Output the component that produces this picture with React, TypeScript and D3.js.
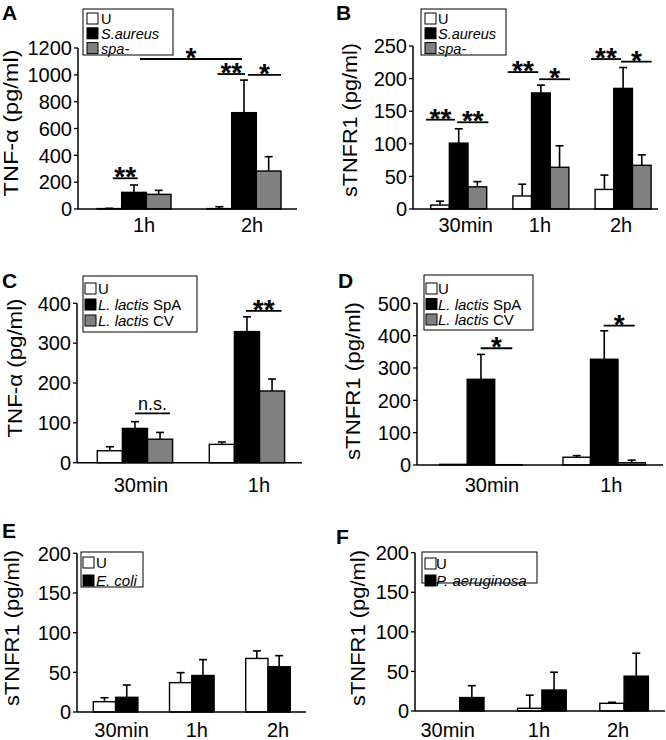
import React from "react";
import * as d3 from "d3";

const FONT = "'Liberation Sans', Arial, Helvetica, sans-serif";

// ---------- Panel A: TNF-α, S. aureus ----------
const groupsA = ["1h", "2h"];
const legendA = [["", "U"], ["S.aureus", ""], ["spa-", ""]];
const meanA_U = [3, 3];
const sdA_U = [2, 14];
const meanA_SA = [124, 718];
const sdA_SA = [55, 243];
const meanA_spa = [109, 283];
const sdA_spa = [30, 107];
const ticksA = [0, 200, 400, 600, 800, 1000, 1200];
// [group1, barPos1, group2, barPos2, value, label]
const sigA = [
  [0, 0.64, 0, 1.65, 229, "**"],
  [0, 1.74, 1, 1.42, 1118, "*"],
  [1, 0.43, 1, 1.54, 1006, "**"],
  [1, 1.66, 1, 3.0, 999, "*"],
];

// ---------- Panel B: sTNFR1, S. aureus ----------
const groupsB = ["30min", "1h", "2h"];
const legendB = [["", "U"], ["S.aureus", ""], ["spa-", ""]];
const meanB_U = [6, 20, 30];
const sdB_U = [6, 18, 22];
const meanB_SA = [101, 178, 185];
const sdB_SA = [22, 12, 32];
const meanB_spa = [34, 64, 67];
const sdB_spa = [8, 33, 16];
const ticksB = [0, 50, 100, 150, 200, 250];
const sigB = [
  [0, -0.25, 0, 1.3, 137, "**"],
  [0, 1.42, 0, 3.09, 133, "**"],
  [1, -0.28, 1, 1.36, 210, "**"],
  [1, 1.41, 1, 3.06, 199, "*"],
  [2, -0.22, 2, 1.39, 230, "**"],
  [2, 1.39, 2, 3.03, 226, "*"],
];

// ---------- Panel C: TNF-α, L. lactis ----------
const groupsC = ["30min", "1h"];
const legendC = [["", "U"], ["L. lactis", " SpA"], ["L. lactis", " CV"]];
const meanC_U = [30, 46];
const sdC_U = [10, 6];
const meanC_SpA = [86, 329];
const sdC_SpA = [17, 37];
const meanC_CV = [59, 180];
const sdC_CV = [17, 30];
const ticksC = [0, 100, 200, 300, 400];
const sigC = [
  [0, 1.5, 0, 2.9, 124, "n.s."],
  [1, 1.46, 1, 2.88, 381, "**"],
];

// ---------- Panel D: sTNFR1, L. lactis ----------
const groupsD = ["30min", "1h"];
const legendD = [["", "U"], ["L. lactis", " SpA"], ["L. lactis", " CV"]];
const meanD_U = [2, 24];
const sdD_U = [0, 5];
const meanD_SpA = [265, 327];
const sdD_SpA = [77, 88];
const meanD_CV = [1, 7];
const sdD_CV = [0, 8];
const ticksD = [0, 100, 200, 300, 400, 500];
const sigD = [
  [0, 1.49, 0, 2.64, 361, "*"],
  [1, 1.48, 1, 2.61, 431, "*"],
];

// ---------- Panel E: sTNFR1, E. coli ----------
const groupsE = ["30min", "1h", "2h"];
const legendE = [["", "U"], ["E. coli", ""]];
const meanE_U = [13, 37, 67.5];
const sdE_U = [5, 12.6, 9.5];
const meanE_Ec = [18.5, 46, 57];
const sdE_Ec = [15.5, 20, 14];
const ticksE = [0, 50, 100, 150, 200];

// ---------- Panel F: sTNFR1, P. aeruginosa ----------
const groupsF = ["30min", "1h", "2h"];
const legendF = [["", "U"], ["P. aeruginosa", ""]];
const meanF_U = [0, 3.4, 9.7];
const sdF_U = [0, 16.6, 1.3];
const meanF_Pa = [17, 26.5, 44];
const sdF_Pa = [15, 22.5, 29];
const ticksF = [0, 50, 100, 150, 200];

const FILLS = ["#ffffff", "#000000", "#808080"];

type Layout = {
  axisX: number; xEnd: number; yTop: number; yBase: number;
  s0: number; step: number; bw: number;
  labelDx: number[]; labelY: number;
  letterX: number; letterY: number;
  yLabX: number; yLabCY: number; yLabLen: number;
  lx: number; ly: number; lw: number; lh: number; rowH: number; rowY0: number; sqX: number; txtX: number; lfs: number;
};

function Panel(props: any) {
  const { groups, means, sds, legend, ticks, sig, yLabel, letter, L } = props;
  const yMax = ticks[ticks.length - 1];
  const y = d3.scaleLinear().domain([0, yMax]).range([L.yBase, L.yTop]);
  const n = groups.length;
  const x = d3
    .scaleBand<string>()
    .domain(groups)
    .range([L.s0, L.s0 + (n - 1) * L.step + L.bw])
    .paddingInner(1 - L.bw / L.step)
    .paddingOuter(0);
  const seriesIdx = means.map((_: any, i: number) => String(i));
  const xi = d3.scaleBand<string>().domain(seriesIdx).range([0, x.bandwidth()]).padding(0);
  const bw = xi.bandwidth();
  const gx = (gi: number) => x(groups[gi]) as number;
  const px = (gi: number, p: number) => gx(gi) + p * bw;

  return (
    <g>
      {/* bars */}
      {groups.map((g: string, gi: number) =>
        means.map((m: number[], si: number) => {
          const v = m[gi];
          if (v <= 0) return null;
          const bx = (x(g) as number) + (xi(String(si)) as number);
          return (
            <rect
              key={g + si}
              x={bx}
              y={y(v)}
              width={bw}
              height={L.yBase - y(v)}
              fill={FILLS[si]}
              stroke="#000"
              strokeWidth={1.4}
            />
          );
        })
      )}
      {/* error bars */}
      {groups.map((g: string, gi: number) =>
        means.map((m: number[], si: number) => {
          const v = m[gi];
          const s = sds[si][gi];
          if (s <= 0) return null;
          const cx = (x(g) as number) + (xi(String(si)) as number) + bw / 2;
          return (
            <g key={"e" + g + si} stroke="#000" strokeWidth={1.6}>
              <line x1={cx} x2={cx} y1={y(v)} y2={y(v + s)} />
              <line x1={cx - 4} x2={cx + 4} y1={y(v + s)} y2={y(v + s)} />
            </g>
          );
        })
      )}
      {/* axes */}
      <line x1={L.axisX} x2={L.axisX} y1={L.yTop} y2={L.yBase} stroke="#000" strokeWidth={1.5} />
      <line x1={L.axisX} x2={L.xEnd} y1={L.yBase} y2={L.yBase} stroke="#000" strokeWidth={1.5} />
      {ticks.map((t: number) => (
        <g key={"t" + t}>
          <line x1={L.axisX - 4} x2={L.axisX} y1={y(t)} y2={y(t)} stroke="#000" strokeWidth={1.3} />
          <text
            x={L.axisX - 6}
            y={y(t)}
            dy="0.36em"
            textAnchor="end"
            fontSize={20}
            fontFamily={FONT}
          >
            {t}
          </text>
        </g>
      ))}
      {groups.map((g: string, gi: number) => (
        <text
          key={"gl" + g}
          x={(x(g) as number) + x.bandwidth() / 2 + L.labelDx[gi]}
          y={L.labelY}
          textAnchor="middle"
          fontSize={20}
          fontFamily={FONT}
        >
          {g}
        </text>
      ))}
      {/* y label */}
      <text
        transform={`translate(${L.yLabX},${L.yLabCY}) rotate(-90)`}
        textAnchor="middle"
        fontSize={19.5}
        fontFamily={FONT}
        textLength={L.yLabLen}
        lengthAdjust="spacingAndGlyphs"
      >
        {yLabel}
      </text>
      {/* letter */}
      <text x={L.letterX} y={L.letterY} fontSize={21} fontWeight="bold" fontFamily={FONT}>
        {letter}
      </text>
      {/* significance */}
      {sig.map((s: any[], k: number) => {
        const x1 = px(s[0], s[1]);
        const x2 = px(s[2], s[3]);
        const yy = y(s[4]);
        const isStar = s[5].indexOf("*") >= 0;
        return (
          <g key={"s" + k}>
            <line x1={x1} x2={x2} y1={yy} y2={yy} stroke="#000" strokeWidth={1.8} />
            <text
              x={(x1 + x2) / 2}
              y={isStar ? yy + 8 : yy - 3}
              textAnchor="middle"
              fontSize={isStar ? 28 : 18}
              fontWeight={isStar ? "bold" : "normal"}
              fontFamily={FONT}
            >
              {s[5]}
            </text>
          </g>
        );
      })}
      {/* legend */}
      <rect x={L.lx} y={L.ly} width={L.lw} height={L.lh} fill="#fff" stroke="#000" strokeWidth={1} />
      {legend.map((it: string[], i: number) => {
        const top = L.ly + L.rowY0 + i * L.rowH;
        return (
          <g key={"lg" + i}>
            <rect x={L.sqX} y={top} width={11} height={11} fill={FILLS[i]} stroke="#000" strokeWidth={1} />
            <text x={L.txtX} y={top + 11} fontSize={L.lfs} fontFamily={FONT}>
              {it[0] ? <tspan fontStyle="italic">{it[0]}</tspan> : null}
              {it[1] ? <tspan>{it[1]}</tspan> : null}
            </text>
          </g>
        );
      })}
    </g>
  );
}

const LA: Layout = {
  axisX: 78, xEnd: 297, yTop: 48, yBase: 209, s0: 97, step: 110, bw: 74,
  labelDx: [10, 8], labelY: 232, letterX: 2, letterY: 20, yLabX: 18, yLabCY: 123, yLabLen: 147,
  lx: 83, ly: 9, lw: 90, lh: 46, rowH: 14.8, rowY0: 4, sqX: 87, txtX: 101, lfs: 14.5,
};
const LB: Layout = {
  axisX: 413, xEnd: 658, yTop: 46, yBase: 209, s0: 430.7, step: 82.2, bw: 56,
  labelDx: [7, -1, -2], labelY: 232, letterX: 336, letterY: 20, yLabX: 357, yLabCY: 120, yLabLen: 154,
  lx: 421, ly: 9, lw: 85, lh: 46, rowH: 14.8, rowY0: 4, sqX: 425, txtX: 438, lfs: 14.5,
};
const LC: Layout = {
  axisX: 77, xEnd: 302, yTop: 303.3, yBase: 462.7, s0: 97.3, step: 112, bw: 75.3,
  labelDx: [6, 12], labelY: 492, letterX: 2, letterY: 288, yLabX: 22, yLabCY: 368, yLabLen: 139,
  lx: 83, ly: 276, lw: 114, lh: 56, rowH: 16, rowY0: 7, sqX: 85, txtX: 98, lfs: 15,
};
const LD: Layout = {
  axisX: 417, xEnd: 663, yTop: 303.3, yBase: 465, s0: 439.7, step: 123.3, bw: 82.5,
  labelDx: [11, 7], labelY: 492, letterX: 338, letterY: 288, yLabX: 360, yLabCY: 381, yLabLen: 158,
  lx: 424, ly: 275, lw: 109, lh: 55, rowH: 15.5, rowY0: 8, sqX: 426, txtX: 438, lfs: 15,
};
const LE: Layout = {
  axisX: 77, xEnd: 306, yTop: 553.3, yBase: 712, s0: 93.3, step: 76.2, bw: 44.6,
  labelDx: [6, 5, 10], labelY: 737, letterX: 2, letterY: 538, yLabX: 19, yLabCY: 628, yLabLen: 156,
  lx: 81, ly: 552, lw: 62, lh: 35, rowH: 18, rowY0: 5, sqX: 83, txtX: 96, lfs: 15,
};
const LF: Layout = {
  axisX: 415, xEnd: 665, yTop: 552.7, yBase: 711, s0: 435.4, step: 82.2, bw: 48.6,
  labelDx: [-12, -3, -6], labelY: 737, letterX: 336, letterY: 544, yLabX: 365, yLabCY: 628, yLabLen: 156,
  lx: 422, ly: 552, lw: 115, lh: 31, rowH: 17, rowY0: 6, sqX: 425, txtX: 436, lfs: 15,
};

export default function App() {
  return (
    <svg
      width={666}
      height={740}
      viewBox="0 0 666 740"
      style={{ position: "absolute", left: 0, top: 0, background: "#fff" }}
    >
      <rect x={0} y={0} width={666} height={740} fill="#fff" />
      <Panel
        groups={groupsA}
        means={[meanA_U, meanA_SA, meanA_spa]}
        sds={[sdA_U, sdA_SA, sdA_spa]}
        legend={legendA}
        ticks={ticksA}
        sig={sigA}
        yLabel="TNF-α (pg/ml)"
        letter="A"
        L={LA}
      />
      <Panel
        groups={groupsB}
        means={[meanB_U, meanB_SA, meanB_spa]}
        sds={[sdB_U, sdB_SA, sdB_spa]}
        legend={legendB}
        ticks={ticksB}
        sig={sigB}
        yLabel="sTNFR1 (pg/ml)"
        letter="B"
        L={LB}
      />
      <Panel
        groups={groupsC}
        means={[meanC_U, meanC_SpA, meanC_CV]}
        sds={[sdC_U, sdC_SpA, sdC_CV]}
        legend={legendC}
        ticks={ticksC}
        sig={sigC}
        yLabel="TNF-α (pg/ml)"
        letter="C"
        L={LC}
      />
      <Panel
        groups={groupsD}
        means={[meanD_U, meanD_SpA, meanD_CV]}
        sds={[sdD_U, sdD_SpA, sdD_CV]}
        legend={legendD}
        ticks={ticksD}
        sig={sigD}
        yLabel="sTNFR1 (pg/ml)"
        letter="D"
        L={LD}
      />
      <Panel
        groups={groupsE}
        means={[meanE_U, meanE_Ec]}
        sds={[sdE_U, sdE_Ec]}
        legend={legendE}
        ticks={ticksE}
        sig={[]}
        yLabel="sTNFR1 (pg/ml)"
        letter="E"
        L={LE}
      />
      <Panel
        groups={groupsF}
        means={[meanF_U, meanF_Pa]}
        sds={[sdF_U, sdF_Pa]}
        legend={legendF}
        ticks={ticksF}
        sig={[]}
        yLabel="sTNFR1 (pg/ml)"
        letter="F"
        L={LF}
      />
    </svg>
  );
}
